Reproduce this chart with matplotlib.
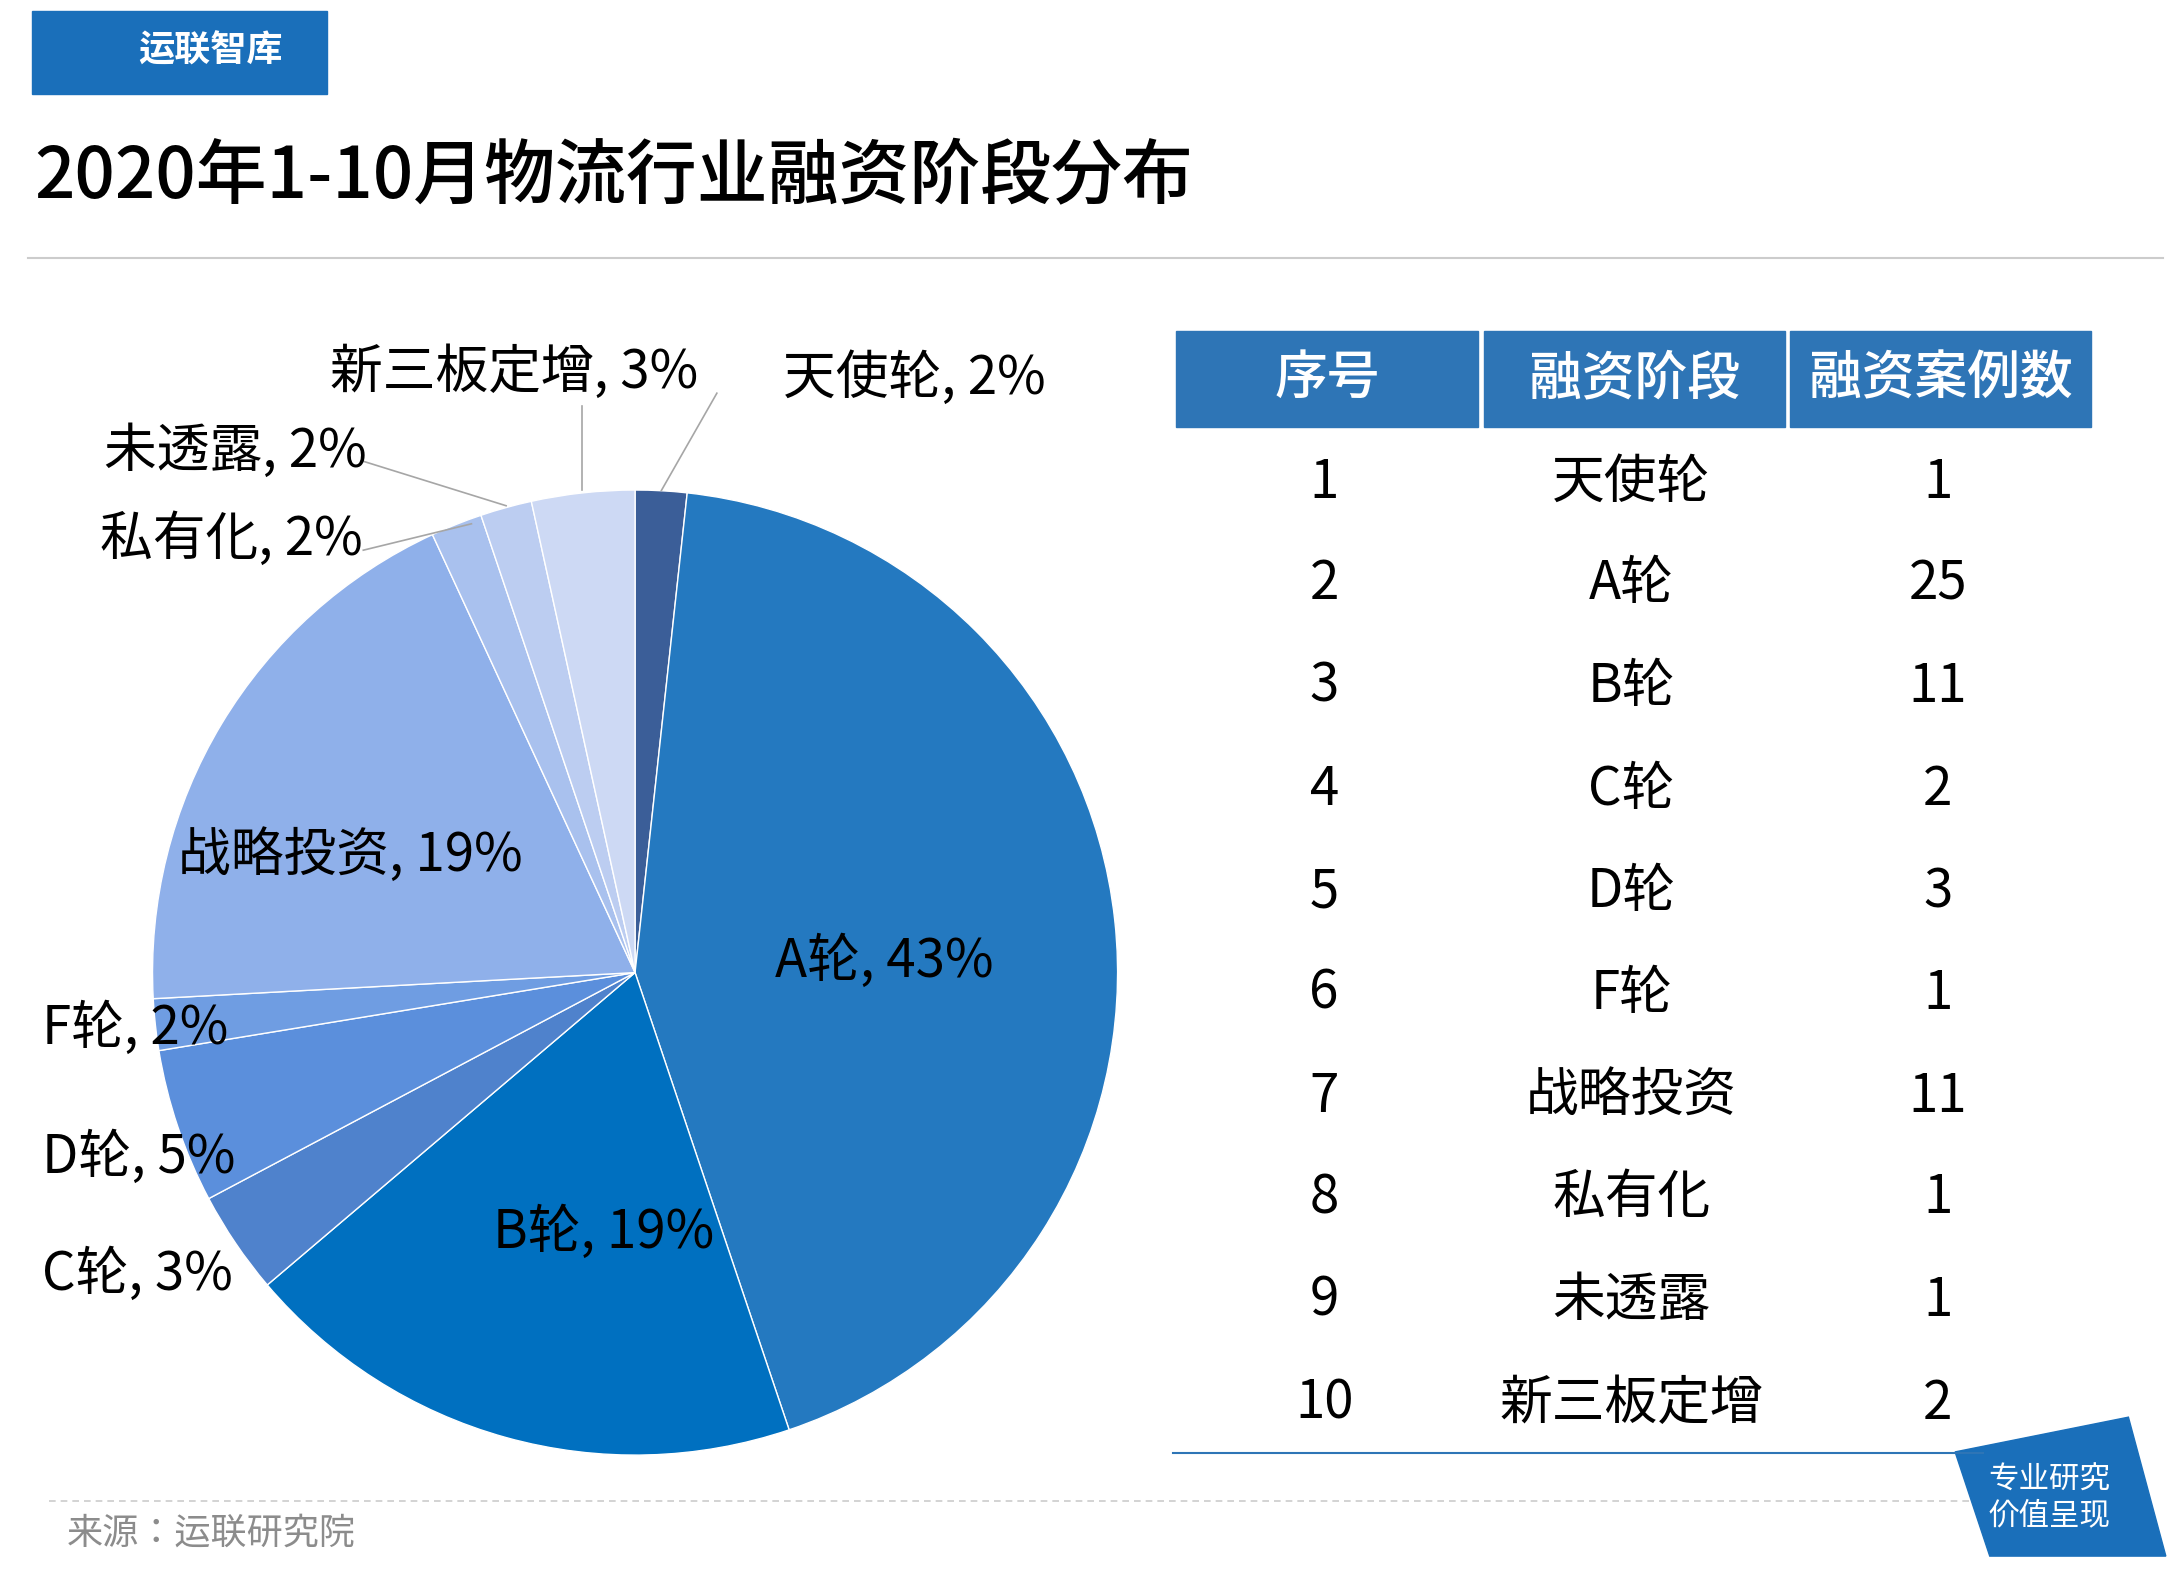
import matplotlib
matplotlib.use("Agg")
import matplotlib.pyplot as plt
from matplotlib.patches import Rectangle, Polygon
from matplotlib.lines import Line2D
from matplotlib import font_manager as fm

names = sorted(set(f.name for f in fm.fontManager.ttflist))
sans = [n for n in names if "Sans CJK" in n]
pref = [n for n in ["Noto Sans CJK SC", "Noto Sans CJK JP", "Noto Sans CJK TC", "Noto Sans CJK KR"] if n in names]
fam = (pref or sans or ["DejaVu Sans"])[0]
plt.rcParams['font.family'] = 'sans-serif'
plt.rcParams['font.sans-serif'] = [fam, "DejaVu Sans"]

categories = ["天使轮", "A轮", "B轮", "C轮", "D轮", "F轮", "战略投资", "私有化", "未透露", "新三板定增"]
counts = [1, 25, 11, 2, 3, 1, 11, 1, 1, 2]
percents = ["2%", "43%", "19%", "3%", "5%", "2%", "19%", "2%", "2%", "3%"]
colors = ["#3b5e98", "#2479c0", "#0070c0", "#4f82cc", "#5b8fdc", "#6f9de2",
          "#8fb0ea", "#a9c1ee", "#bccdf1", "#cdd9f4"]

W, H = 1565, 1130
fig = plt.figure(figsize=(21.7, 15.7), dpi=100)

def fx(x): return x / W
def fy(y): return 1 - y / H

# header logo
fig.patches.append(Rectangle((fx(23), fy(68)), fx(236) - fx(23), fy(8) - fy(68),
                             transform=fig.transFigure, color="#1a6fba"))
fig.text(fx(152), fy(37), "运联智库", color="white", fontsize=26, ha="center", va="center", weight="bold")
fig.text(fx(25), fy(128), "2020年1-10月物流行业融资阶段分布", fontsize=51, ha="left", va="center", weight="medium")
fig.add_artist(Line2D([fx(20), fx(1560)], [fy(186), fy(186)], color="#cccccc", lw=1.5, transform=fig.transFigure))

# pie
cx, cy, r = 458, 700, 348
ax = fig.add_axes([fx(cx - r), fy(cy + r), (2 * r) / W, (2 * r) / H])
ax.pie(counts, colors=colors, startangle=90, counterclock=False, radius=1.0,
       wedgeprops=dict(edgecolor="white", linewidth=1))
ax.set_xlim(-1, 1)
ax.set_ylim(-1, 1)
ax.set_aspect("equal")
ax.axis("off")

lab_pos = {
    "天使轮": (565, 272, "left"), "A轮": (638, 692, "center"), "B轮": (435, 887, "center"),
    "C轮": (30, 917, "left"), "D轮": (30, 833, "left"), "F轮": (30, 740, "left"),
    "战略投资": (253, 616, "center"), "私有化": (72, 388, "left"),
    "未透露": (75, 325, "left"), "新三板定增": (371, 268, "center"),
}
for c, p in zip(categories, percents):
    x, y, ha = lab_pos[c]
    fig.text(fx(x), fy(y), f"{c}, {p}", fontsize=38, ha=ha, va="center")
for (x1, y1, x2, y2) in [(477, 353, 517, 283), (420, 353, 420, 292),
                         (365, 364, 262, 332), (340, 377, 262, 396)]:
    fig.add_artist(Line2D([fx(x1), fx(x2)], [fy(y1), fy(y2)], color="#a6a6a6", lw=1.2, transform=fig.transFigure))

# table
headers = ["序号", "融资阶段", "融资案例数"]
col_edges = [(848, 1066), (1070, 1287), (1291, 1508)]
for (x0, x1), h in zip(col_edges, headers):
    fig.patches.append(Rectangle((fx(x0), fy(307)), fx(x1) - fx(x0), fy(238) - fy(307),
                                 transform=fig.transFigure, color="#2e75b6"))
    fig.text(fx((x0 + x1) / 2), fy(273), h, color="white", fontsize=38, ha="center", va="center", weight="medium")
row_y = [347, 420, 494, 568, 642, 715, 789, 862, 936, 1010]
for i, (c, n) in enumerate(zip(categories, counts)):
    y = row_y[i]
    for (x0, x1), t in zip(col_edges, [str(i + 1), c, str(n)]):
        fig.text(fx((x0 + x1) / 2 - 2), fy(y), t, fontsize=38, ha="center", va="center")
fig.add_artist(Line2D([fx(846), fx(1430)], [fy(1046), fy(1046)], color="#2e75b6", lw=1.5, transform=fig.transFigure))

# footer
fig.add_artist(Line2D([fx(35), fx(1420)], [fy(1080), fy(1080)], color="#cccccc", lw=1.2, ls=(0, (4, 3)), transform=fig.transFigure))
fig.text(fx(48), fy(1104), "来源：运联研究院", fontsize=26, color="#8c8c8c", ha="left", va="center")
fig.patches.append(Polygon([(fx(1410), fy(1045)), (fx(1535), fy(1020)), (fx(1562), fy(1120)), (fx(1435), fy(1120))],
                           closed=True, transform=fig.transFigure, color="#1a6fba"))
fig.text(fx(1478), fy(1078), "专业研究\n价值呈现", fontsize=22, color="white", ha="center", va="center", linespacing=1.2)

fig.savefig("out.png", dpi=100)
